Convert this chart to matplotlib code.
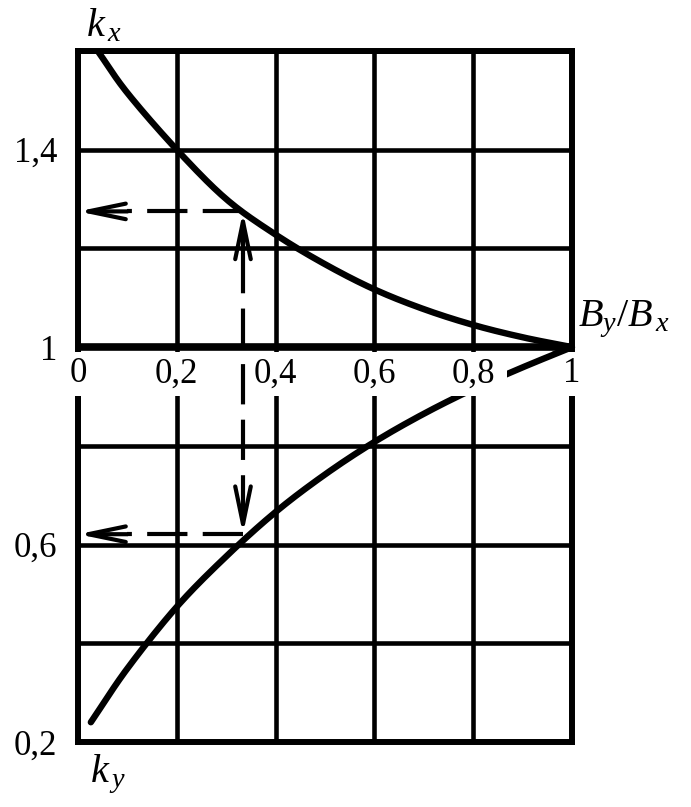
import numpy as np
import matplotlib
matplotlib.use("Agg")
import matplotlib.pyplot as plt
from matplotlib.patches import Rectangle

plt.rcParams['font.family'] = ['Liberation Serif', 'DejaVu Serif']
plt.rcParams['mathtext.fontset'] = 'custom'
plt.rcParams['mathtext.it'] = 'Liberation Serif:italic'
plt.rcParams['mathtext.rm'] = 'Liberation Serif'
plt.rcParams['lines.scale_dashes'] = False

# ---- data ----
kx_ratio = [0.04, 0.1, 0.2, 0.3, 0.4, 0.5, 0.6, 0.7, 0.8, 0.9, 1.0]
kx_vals = [1.60, 1.515, 1.40, 1.30, 1.228, 1.168, 1.117, 1.077, 1.045, 1.02, 1.0]

ky_ratio = [0.026, 0.1, 0.2, 0.3, 0.4, 0.5, 0.6, 0.7, 0.8, 0.9, 1.0]
ky_vals = [0.24, 0.349, 0.474, 0.576, 0.666, 0.742, 0.808, 0.865, 0.915, 0.959, 1.0]

x_ticks = [0, 0.2, 0.4, 0.6, 0.8, 1.0]
x_tick_labels = ['0', '0,2', '0,4', '0,6', '0,8', '1']
y_ticks = [0.2, 0.4, 0.6, 0.8, 1.0, 1.2, 1.4, 1.6]
y_tick_labels = ['0,2', '', '0,6', '', '1', '', '1,4', '']

example_ratio = 0.334
example_kx = 1.275
example_ky = 0.621


def smooth(xs, ys, n=20):
    """Catmull-Rom curve through the read points (drawing only)."""
    x = np.asarray(xs, float)
    y = np.asarray(ys, float)
    px = np.concatenate([[2 * x[0] - x[1]], x, [2 * x[-1] - x[-2]]])
    py = np.concatenate([[2 * y[0] - y[1]], y, [2 * y[-1] - y[-2]]])
    outx, outy = [], []
    t = np.linspace(0, 1, n, endpoint=False)
    for i in range(1, len(px) - 2):
        for arr, out in ((px, outx), (py, outy)):
            p0, p1, p2, p3 = arr[i - 1], arr[i], arr[i + 1], arr[i + 2]
            out.extend(0.5 * ((2 * p1) + (-p0 + p2) * t
                              + (2 * p0 - 5 * p1 + 4 * p2 - p3) * t ** 2
                              + (-p0 + 3 * p1 - 3 * p2 + p3) * t ** 3))
    outx.append(x[-1])
    outy.append(y[-1])
    return np.array(outx), np.array(outy)


# ---- figure ----
fig = plt.figure(figsize=(6.91, 8.07), dpi=100)
ax = fig.add_axes([78 / 691, 1 - 742 / 807, 494 / 691, 691 / 807])
ax.set_xlim(0, 1)
ax.set_ylim(0.2, 1.6)

ax.set_xticks(x_ticks)
ax.set_yticks(y_ticks)
ax.set_yticklabels(y_tick_labels, fontsize=25)
ax.tick_params(length=0, labelbottom=False, pad=15)
ax.set_axisbelow(True)
ax.grid(True, color='black', lw=3.3)
for s in ax.spines.values():
    s.set_linewidth(4.3)
    s.set_zorder(2.5)

ax.axhline(1.0, color='black', lw=5.5, zorder=2.6)

curve_lw = 4.6
sx, sy = smooth(kx_ratio, kx_vals)
ax.plot(sx, sy, color='black', lw=curve_lw, zorder=2.7, solid_capstyle='butt')
tx, ty = smooth(ky_ratio, ky_vals)
ax.plot(tx, ty, color='black', lw=curve_lw, zorder=2.7, solid_capstyle='round')

# white band behind the x tick labels
band = Rectangle((-0.015, 0.901), 1.03, 0.089, transform=ax.transData,
                 facecolor='white', edgecolor='none', zorder=3, clip_on=False)
ax.add_patch(band)

# last piece of ky curve is drawn over the band
top_seg, = ax.plot(tx, ty, color='black', lw=curve_lw, zorder=5,
                   solid_capstyle='round')
clip_rect = Rectangle((0.868, 0.85), 0.2, 0.2, transform=ax.transData)
top_seg.set_clip_path(clip_rect)

for xv, lab in zip(x_ticks, x_tick_labels):
    ax.text(xv, 0.946, lab, ha='center', va='center', fontsize=25, zorder=6)

# dashed construction lines with arrows
dash_kw = dict(color='black', lw=3.0, linestyle=(0, (29, 11)), zorder=4,
               dash_capstyle='butt')
arrow_kw = dict(arrowstyle='->,head_length=1.35,head_width=0.28', color='black',
                lw=3.0, shrinkA=0, shrinkB=0, mutation_scale=20)
tail = 0.1
# horizontal upper
ax.plot([example_ratio, tail], [example_kx, example_kx], **dash_kw)
ax.annotate('', xy=(0.0, example_kx), xytext=(tail, example_kx),
            arrowprops=arrow_kw, zorder=4)
# horizontal lower
ax.plot([example_ratio, tail], [example_ky, example_ky], **dash_kw)
ax.annotate('', xy=(0.0, example_ky), xytext=(tail, example_ky),
            arrowprops=arrow_kw, zorder=4)
# vertical
v_top_tail = 1.19
v_bot_tail = 0.71
ax.annotate('', xy=(example_ratio, example_kx), xytext=(example_ratio, v_top_tail),
            arrowprops=arrow_kw, zorder=4)
ax.plot([example_ratio, example_ratio], [v_top_tail, v_bot_tail], **dash_kw)
ax.annotate('', xy=(example_ratio, example_ky), xytext=(example_ratio, v_bot_tail),
            arrowprops=arrow_kw, zorder=4)

# axis names
fig.text(86 / 691, 1 - 36 / 807, r'$k_{\,x}$', fontsize=29, va='baseline')
fig.text(90 / 691, 1 - 782 / 807, r'$k_{\,y}$', fontsize=29, va='baseline')
fig.text(578 / 691, 1 - 326 / 807, r'$B_{y}/B_{\,x}$', fontsize=29, va='baseline')

fig.savefig('out.png', dpi=100)
